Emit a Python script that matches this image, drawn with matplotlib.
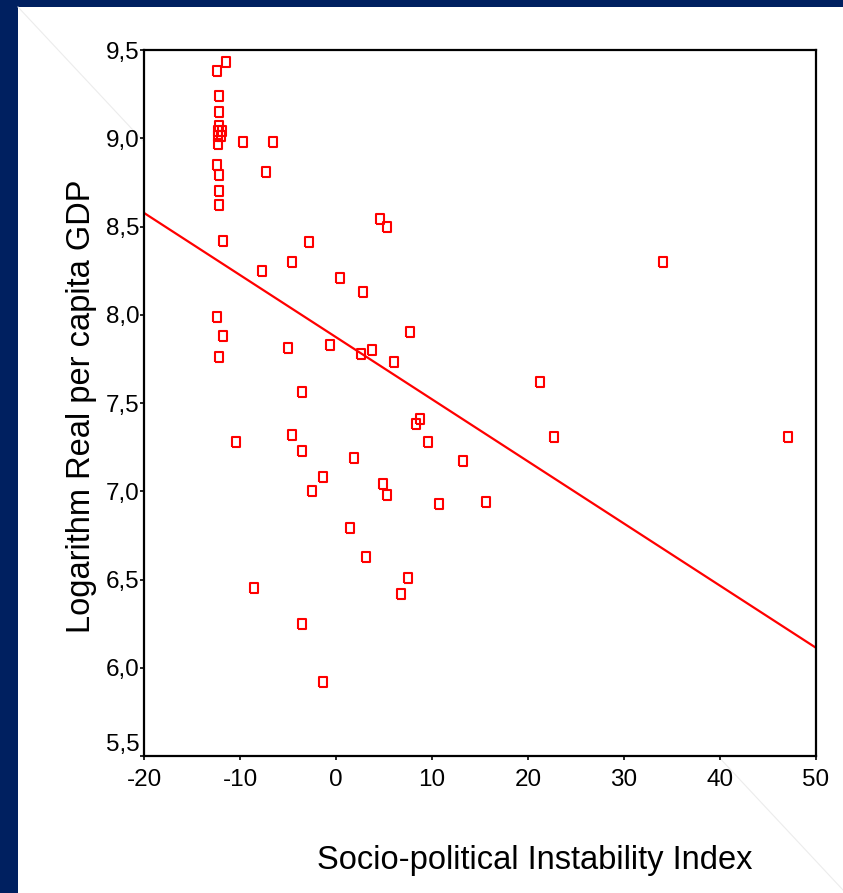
import matplotlib
matplotlib.use("Agg")
import matplotlib.pyplot as plt
from matplotlib.patches import Rectangle
from matplotlib.lines import Line2D
import numpy as np

# instability index (x) vs log real per capita GDP (y)
instability = [-11.5, -12.4, -12.2, -12.2, -12.2, -12.3, -11.9, -12.3, -12.0, -12.3,
               -9.7, -6.6, -12.4, -12.2, -12.2, -7.3, -12.2, -11.8, -2.8, -4.6,
               -7.7, 4.6, 5.3, 0.4, 2.8, 7.7, -0.6, 2.6, 3.8, 6.0,
               21.2, 8.8, 8.3, 9.6, 22.7, 1.9, 13.2, -1.4, 4.9, 5.3,
               10.7, 15.6, 1.5, -12.4, -11.8, -12.2, -5.0, -3.5, -10.4, -4.6,
               -3.5, -2.5, 3.1, 7.5, 6.8, -8.5, -3.5, -1.4, 34.1, 47.1]
log_gdp = [9.43, 9.38, 9.24, 9.15, 9.07, 9.04, 9.04, 9.01, 9.01, 8.97,
           8.98, 8.98, 8.85, 8.79, 8.70, 8.81, 8.62, 8.42, 8.41, 8.30,
           8.25, 8.54, 8.50, 8.21, 8.13, 7.90, 7.83, 7.78, 7.80, 7.73,
           7.62, 7.41, 7.38, 7.28, 7.31, 7.19, 7.17, 7.08, 7.04, 6.98,
           6.93, 6.94, 6.79, 7.99, 7.88, 7.76, 7.81, 7.56, 7.28, 7.32,
           7.23, 7.00, 6.63, 6.51, 6.42, 6.45, 6.25, 5.92, 8.30, 7.31]

# fitted line as shown: y = intercept + slope * x
fit_intercept = 7.873
fit_slope = -0.0352

x_ticks = [-20, -10, 0, 10, 20, 30, 40, 50]
y_ticks = [5.5, 6.0, 6.5, 7.0, 7.5, 8.0, 8.5, 9.0, 9.5]

plt.rcParams['font.family'] = ['Liberation Sans', 'DejaVu Sans']

W, H = 843, 893
fig = plt.figure(figsize=(W / 100, H / 100), dpi=100)
fig.patch.set_facecolor('#002060')

# white slide area with a faint diagonal decoration
fig.patches.append(Rectangle((18 / W, 0), 1 - 18 / W, 1 - 7 / H,
                             transform=fig.transFigure, facecolor='white',
                             edgecolor='none', zorder=-2))
fig.lines.append(Line2D([18 / W, 1.0], [1 - 7 / H, 1 - 890 / H],
                        transform=fig.transFigure, color='#ececec', lw=0.8, zorder=-1))

ax = fig.add_axes([144 / W, 1 - 756 / H, 672 / W, 706 / H])
ax.set_facecolor('white')

box = [(-0.8, -1), (0.8, -1), (0.8, 1), (-0.8, 1), (-0.8, -1)]
ax.plot(instability, log_gdp, linestyle='none', marker=box, markersize=7,
        markerfacecolor='none', markeredgecolor='#ff0000', markeredgewidth=1.5,
        zorder=3)

xx = np.array([x_ticks[0], x_ticks[-1]])
ax.plot(xx, fit_intercept + fit_slope * xx, color='#ff0000', lw=1.6, zorder=2)

ax.set_xlim(x_ticks[0], x_ticks[-1])
ax.set_ylim(y_ticks[0], y_ticks[-1])
ax.set_xticks(x_ticks)
ax.set_yticks(y_ticks)
ax.set_xticklabels([str(t) for t in x_ticks])
ax.set_yticklabels([('%.1f' % t).replace('.', ',') for t in y_ticks])

for s in ax.spines.values():
    s.set_linewidth(1.6)
    s.set_color('black')

ax.tick_params(direction='out', length=3, width=1.2, labelsize=17.5, colors='black')
ax.tick_params(axis='x', pad=6)
ax.tick_params(axis='y', pad=0)

# SPSS style: lowest y label sits above its tick
ylabs = ax.get_yticklabels()
ylabs[0].set_verticalalignment('bottom')

fig.text(82 / W, 1 - 406 / H, 'Logarithm Real per capita GDP', rotation=90,
         ha='center', va='center', fontsize=23.5, color='black')
fig.text(535 / W, 1 - 860 / H, 'Socio-political Instability Index',
         ha='center', va='center', fontsize=23.5, color='black')

fig.savefig('out.png', dpi=100, facecolor=fig.get_facecolor())
